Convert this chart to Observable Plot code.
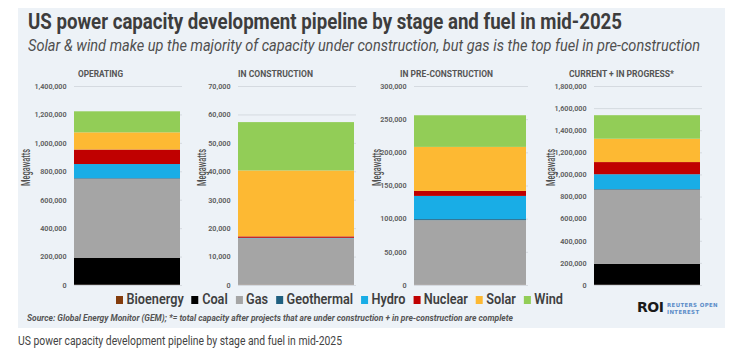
<!DOCTYPE html>
<html>
<head>
<meta charset="utf-8">
<script src="https://cdn.jsdelivr.net/npm/d3@7"></script>
<script src="https://cdn.jsdelivr.net/npm/@observablehq/plot@0.6"></script>
<style>
  html, body { margin: 0; padding: 0; background: #ffffff; }
  #root { position: relative; width: 732px; height: 363px; overflow: hidden; font-family: Roboto, "DejaVu Sans", sans-serif; }
  #bg { position: absolute; left: 18px; top: 8px; width: 707px; height: 320px; background: #edf2f7; }
  .abs { position: absolute; white-space: nowrap; transform-origin: 0 50%; }
  #title { left: 28px; top: 8px; font-size: 22.5px; font-weight: bold; color: #3d3d3d; }
  #subtitle { left: 28px; top: 36px; font-size: 16.5px; font-style: italic; color: #4f4f4f; }
  #legend { left: 116px; top: 291px; font-size: 14.5px; font-weight: 600; color: #3f3f3f; display: flex; align-items: center; }
  #legend .item { display: flex; align-items: center; margin-right: 9px; }
  #legend .item:last-child { margin-right: 0; }
  #legend .sw { width: 8px; height: 8px; margin-right: 4px; display: inline-block; }
  #source { left: 27px; top: 313px; font-size: 9px; font-style: italic; font-weight: bold; color: #555; }
  #roi { left: 637px; top: 299px; font-family: "DejaVu Sans", sans-serif; font-size: 14px; font-weight: bold; color: #1a1a1a; letter-spacing: -0.5px; }
  #roisub { left: 667px; top: 302px; font-family: "DejaVu Sans", sans-serif; font-size: 5.6px; line-height: 6.5px; color: #5b8cc8; letter-spacing: 0.4px; font-weight: bold; }
  #caption { left: 18px; top: 333px; font-size: 12.8px; color: #444; }
  .panel { position: absolute; top: 60px; }
  .panel svg { overflow: visible; background: transparent; }
</style>
</head>
<body>
<div id="root">
  <div id="bg"></div>
  <div id="title" class="abs">US power capacity development pipeline by stage and fuel in mid-2025</div>
  <div id="subtitle" class="abs">Solar &amp; wind make up the majority of capacity under construction, but gas is the top fuel in pre-construction</div>
  <div id="legend" class="abs"></div>
  <div id="source" class="abs">Source: Global Energy Monitor (GEM); *= total capacity after projects that are under construction + in pre-construction are complete</div>
  <div id="roi" class="abs">ROI</div>
  <div id="roisub" class="abs">REUTERS OPEN<br>INTEREST</div>
  <div id="caption" class="abs">US power capacity development pipeline by stage and fuel in mid-2025</div>
</div>
<script>
// ---- data ----
const fuels = ["Bioenergy", "Coal", "Gas", "Geothermal", "Hydro", "Nuclear", "Solar", "Wind"];
const fuelColors = ["#843c0c", "#000000", "#a5a5a5", "#1f5f7f", "#19ade6", "#c00000", "#fdb933", "#92cd57"];

const stages = ["OPERATING", "IN CONSTRUCTION", "IN PRE-CONSTRUCTION", "CURRENT + IN PROGRESS*"];
const operating    = [2000, 188000, 558000, 4000, 99000, 102000, 121000, 148000];
const construction = [100, 0, 16300, 50, 150, 500, 23200, 17000];
const preConstruction = [300, 0, 97500, 1500, 35000, 7600, 66300, 47700];
const currentPlus  = [2400, 188000, 672000, 5600, 134000, 110000, 211000, 213000];

const yMax  = [1400000, 70000, 300000, 1800000];
const yStep = [200000, 10000, 50000, 200000];

// ---- layout ----
const panelLayout = [
  {left: 18,  frameW: 108, titleDx: -28, labelDx: -49, titleW: 45},
  {left: 182, frameW: 118, titleDx: -22, labelDx: -37, titleW: 75},
  {left: 358, frameW: 114, titleDx: -25, labelDx: -38, titleW: 93},
  {left: 538, frameW: 108, titleDx: -27, labelDx: -44, titleW: 105}
];
const seriesList = [operating, construction, preConstruction, currentPlus];
const root = document.getElementById("root");

seriesList.forEach((vals, p) => {
  const L = panelLayout[p];
  const data = fuels.map((f, i) => ({stage: stages[p], fuel: f, value: vals[i]}));
  const ticks = d3.range(0, yMax[p] + 1, yStep[p]);
  const chart = Plot.plot({
    width: 56 + L.frameW,
    height: 230,
    marginTop: 26,
    marginBottom: 5,
    marginLeft: 56,
    marginRight: 0,
    style: {fontFamily: "Roboto, 'DejaVu Sans', sans-serif", background: "transparent", overflow: "visible"},
    x: {axis: null, padding: 0},
    y: {domain: [0, yMax[p]], axis: null},
    color: {domain: fuels, range: fuelColors},
    marks: [
      Plot.gridY(ticks, {stroke: "#d5dae0", strokeOpacity: 1, strokeWidth: 1}),
      Plot.axisY(ticks, {tickSize: 0, tickPadding: 8, fontSize: 7.2, fontWeight: 600, fill: "#5a5a5a", label: null, tickFormat: d3.format(",")}),
      Plot.barY(data, {x: "stage", y: "value", fill: "fuel", insetRight: 2}),
      Plot.text([stages[p]], {text: d => d, frameAnchor: "top", dy: -15, dx: L.titleDx, fontSize: 8.2, fontWeight: 700, fill: "#555", className: "ptitle"}),
      Plot.text(["Megawatts"], {text: d => d, frameAnchor: "left", dx: L.labelDx, rotate: -90, fontSize: 13, fontWeight: 500, fill: "#505050", className: "mw"})
    ]
  });
  // condense the texts to the reference widths
  chart.querySelectorAll(".mw text").forEach(t => { t.setAttribute("textLength", 37); t.setAttribute("lengthAdjust", "spacingAndGlyphs"); });
  chart.querySelectorAll(".ptitle text").forEach(t => { t.setAttribute("textLength", L.titleW); t.setAttribute("lengthAdjust", "spacingAndGlyphs"); });
  const wrap = document.createElement("div");
  wrap.className = "panel";
  wrap.style.left = L.left + "px";
  wrap.appendChild(chart);
  root.appendChild(wrap);
});

// legend
const legend = document.getElementById("legend");
fuels.forEach((f, i) => {
  const item = document.createElement("span");
  item.className = "item";
  const sw = document.createElement("span");
  sw.className = "sw";
  sw.style.background = fuelColors[i];
  item.appendChild(sw);
  item.appendChild(document.createTextNode(f));
  legend.appendChild(item);
});

// fit condensed texts to reference widths
function fit(id, w) {
  const el = document.getElementById(id);
  const cur = el.getBoundingClientRect().width;
  el.style.transform = `scaleX(${w / cur})`;
}
fit("title", 594);
fit("subtitle", 672);
fit("legend", 447);
fit("source", 486);
fit("caption", 324);
fit("roisub", 51);
</script>
</body>
</html>
